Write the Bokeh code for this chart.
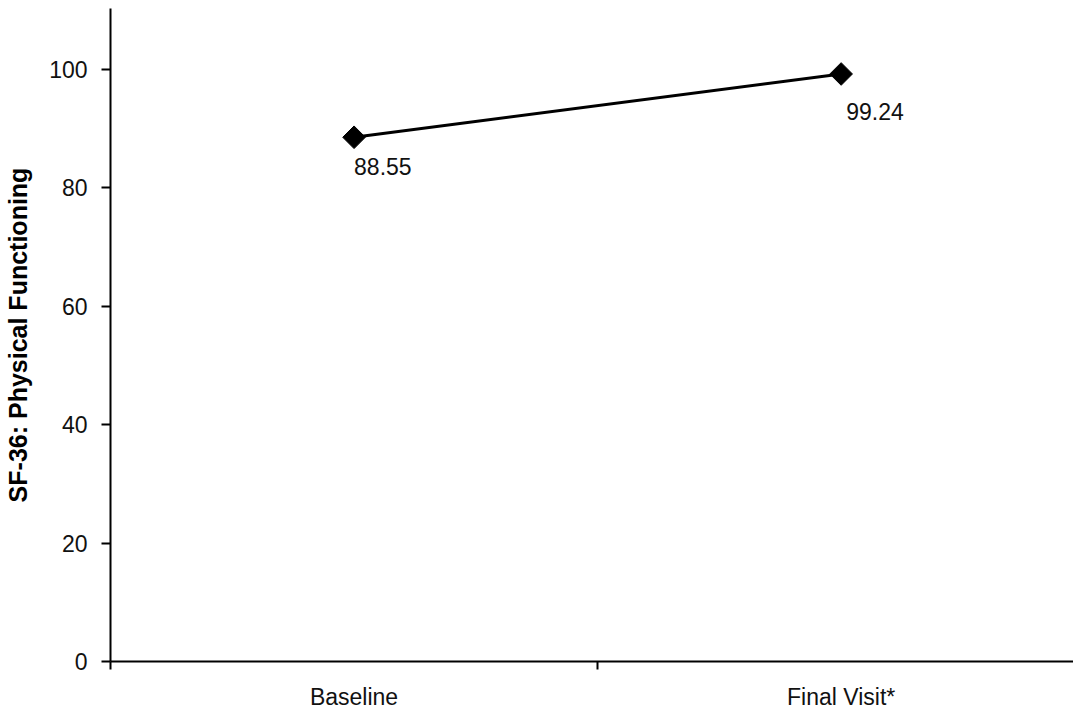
import math
from bokeh.plotting import figure
from bokeh.models import FixedTicker, Range1d, ColumnDataSource
from bokeh.core.properties import value
from bokeh.embed import file_html
from bokeh.resources import INLINE

categories = ["Baseline", "Final Visit*"]
values = [88.55, 99.24]
value_labels = ["88.55", "99.24"]
y_ticks = [0, 20, 40, 60, 80, 100]

xs = list(range(len(categories)))

p = figure(width=1073, height=712, output_backend="svg", toolbar_location=None,
           x_range=Range1d(-0.5, 1.477), y_range=Range1d(0, 110.3),
           min_border_left=110, min_border_right=0, min_border_top=8, min_border_bottom=51)
p.outline_line_color = None
p.background_fill_color = "white"
p.border_fill_color = "white"
p.grid.visible = False

src = ColumnDataSource(dict(x=xs, y=values, lab=value_labels,
                            dx=[0, 5], dy=[29, 38]))
p.line("x", "y", source=src, line_color="black", line_width=3)
p.scatter("x", "y", source=src, marker="square", size=16, angle=math.pi / 4,
          fill_color="black", line_color="black")
p.text("x", "y", text="lab", source=src, x_offset="dx", y_offset="dy",
       text_font_size="23px", text_font=value("Liberation Sans"), text_color="#111111",
       text_align="left", text_baseline="middle")

xa = p.xaxis[0]
xa.ticker = FixedTicker(ticks=xs, minor_ticks=[-0.5, 0.5, 1.5])
xa.major_label_overrides = {i: c for i, c in enumerate(categories)}
xa.major_tick_line_color = None
xa.major_tick_in = 0
xa.major_tick_out = 6
xa.minor_tick_line_color = "black"
xa.minor_tick_line_width = 2
xa.minor_tick_in = 0
xa.minor_tick_out = 8
xa.axis_line_color = "black"
xa.axis_line_width = 2
xa.major_label_text_font = "Liberation Sans"
xa.major_label_text_font_size = "23px"
xa.major_label_text_color = "#111111"
xa.major_label_standoff = 14

ya = p.yaxis[0]
ya.ticker = FixedTicker(ticks=y_ticks)
ya.axis_line_color = "black"
ya.axis_line_width = 2
ya.major_tick_line_color = "black"
ya.major_tick_line_width = 2
ya.major_tick_in = 0
ya.major_tick_out = 9
ya.minor_tick_line_color = None
ya.major_label_text_font = "Liberation Sans"
ya.major_label_text_font_size = "23px"
ya.major_label_text_color = "#111111"
ya.major_label_standoff = 14
ya.axis_label = "SF-36: Physical Functioning"
ya.axis_label_text_font = "Liberation Sans"
ya.axis_label_text_font_size = "25px"
ya.axis_label_text_font_style = "bold"
ya.axis_label_text_color = "black"
ya.axis_label_standoff = 14

open("out.html", "w").write(file_html(p, INLINE))
